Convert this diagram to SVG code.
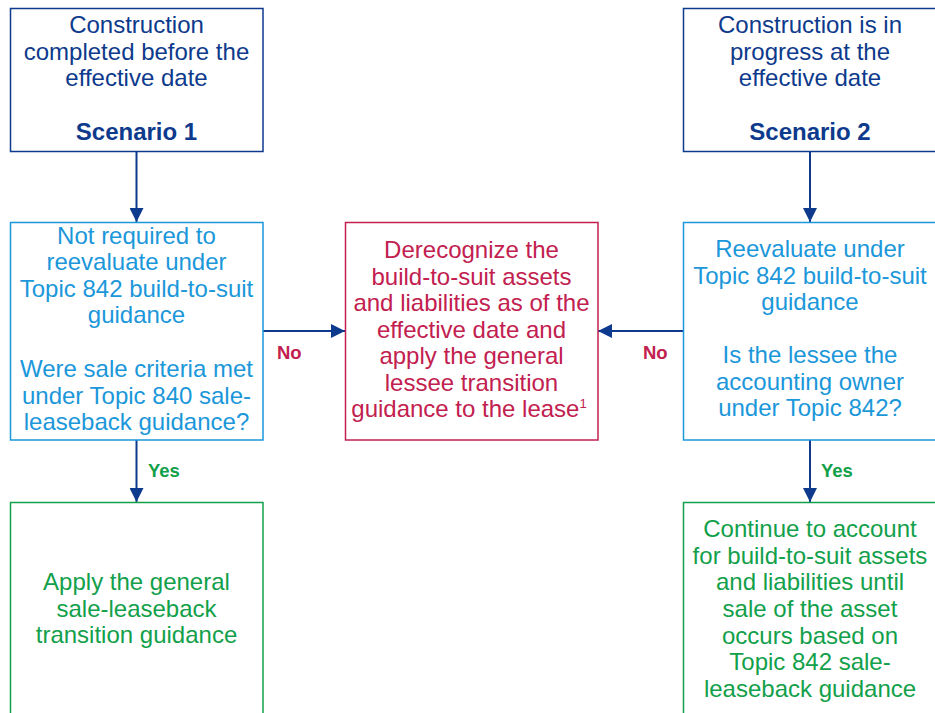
<svg xmlns="http://www.w3.org/2000/svg" width="935" height="713" viewBox="0 0 935 713">
<defs>
<style>
text{font-family:"Liberation Sans",Arial,sans-serif;font-size:24px;text-anchor:middle}
.box{fill:#fff;stroke-width:1.5}
.navy{stroke:#0d3a8c}
.lb{stroke:#1b97da}
.cr{stroke:#c2204f}
.gr{stroke:#12a04a}
.tnavy{fill:#0d3a8c}
.tlb{fill:#1b97da}
.tcr{fill:#c2204f}
.tgr{fill:#12a04a}
.b{font-weight:bold}
.lbl{font-size:18.5px;font-weight:bold;text-anchor:start}
.conn{stroke:#0d3a8c;stroke-width:2;fill:none}
</style>
<marker id="ah" markerWidth="14" markerHeight="14" viewBox="0 0 14 14" refX="14" refY="7" orient="auto" markerUnits="userSpaceOnUse">
<path d="M0,0 L14,7 L0,14 Z" fill="#0d3a8c"/>
</marker>
</defs>
<g id="connectors">
<line class="conn" x1="136.5" y1="152" x2="136.5" y2="222" marker-end="url(#ah)"/>
<line class="conn" x1="136.5" y1="440" x2="136.5" y2="502" marker-end="url(#ah)"/>
<line class="conn" x1="810" y1="152" x2="810" y2="222" marker-end="url(#ah)"/>
<line class="conn" x1="810" y1="440" x2="810" y2="502" marker-end="url(#ah)"/>
<line class="conn" x1="263" y1="331" x2="345" y2="331" marker-end="url(#ah)"/>
<line class="conn" x1="683" y1="331" x2="598" y2="331" marker-end="url(#ah)"/>
<text class="lbl tcr" x="277" y="359">No</text>
<text class="lbl tcr" x="643" y="359">No</text>
<text class="lbl tgr" x="148" y="477">Yes</text>
<text class="lbl tgr" x="821" y="477">Yes</text>
</g>
<g id="scenario1">
<rect class="box navy" x="10.5" y="8.5" width="252.5" height="143"/>
<text class="tnavy" x="136.5" y="33">Construction</text>
<text class="tnavy" x="136.5" y="59.5">completed before the</text>
<text class="tnavy" x="136.5" y="86">effective date</text>
<text class="tnavy b" x="136.5" y="139.5">Scenario 1</text>
</g>
<g id="scenario2">
<rect class="box navy" x="683.5" y="8.5" width="260" height="143"/>
<text class="tnavy" x="810" y="33">Construction is in</text>
<text class="tnavy" x="810" y="59.5">progress at the</text>
<text class="tnavy" x="810" y="86">effective date</text>
<text class="tnavy b" x="810" y="139.5">Scenario 2</text>
</g>
<g id="notRequired">
<rect class="box lb" x="10.5" y="222.5" width="252.5" height="217.5"/>
<text class="tlb" x="136.5" y="243.5">Not required to</text>
<text class="tlb" x="136.5" y="270">reevaluate under</text>
<text class="tlb" x="136.5" y="296.5">Topic 842 build-to-suit</text>
<text class="tlb" x="136.5" y="323">guidance</text>
<text class="tlb" x="136.5" y="377">Were sale criteria met</text>
<text class="tlb" x="136.5" y="403.5">under Topic 840 sale-</text>
<text class="tlb" x="136.5" y="430">leaseback guidance?</text>
</g>
<g id="derecognize">
<rect class="box cr" x="345.5" y="222.5" width="252.5" height="217.5"/>
<text class="tcr" x="471.5" y="258">Derecognize the</text>
<text class="tcr" x="471.5" y="284.5">build-to-suit assets</text>
<text class="tcr" x="471.5" y="311">and liabilities as of the</text>
<text class="tcr" x="471.5" y="337.5">effective date and</text>
<text class="tcr" x="471.5" y="364">apply the general</text>
<text class="tcr" x="471.5" y="390.5">lessee transition</text>
<text class="tcr" x="469" y="417">guidance to the lease<tspan font-size="13" dy="-9">1</tspan></text>
</g>
<g id="reevaluate">
<rect class="box lb" x="683.5" y="222.5" width="260" height="217.5"/>
<text class="tlb" x="810" y="257">Reevaluate under</text>
<text class="tlb" x="810" y="283.5">Topic 842 build-to-suit</text>
<text class="tlb" x="810" y="310">guidance</text>
<text class="tlb" x="810" y="363">Is the lessee the</text>
<text class="tlb" x="810" y="389.5">accounting owner</text>
<text class="tlb" x="810" y="416">under Topic 842?</text>
</g>
<g id="applyGeneral">
<rect class="box gr" x="10.5" y="502.5" width="252.5" height="230"/>
<text class="tgr" x="136.5" y="590">Apply the general</text>
<text class="tgr" x="136.5" y="616.5">sale-leaseback</text>
<text class="tgr" x="136.5" y="643">transition guidance</text>
</g>
<g id="continueAccount">
<rect class="box gr" x="683.5" y="502.5" width="260" height="230"/>
<text class="tgr" x="810" y="537">Continue to account</text>
<text class="tgr" x="810" y="563.7">for build-to-suit assets</text>
<text class="tgr" x="810" y="590.3">and liabilities until</text>
<text class="tgr" x="810" y="617">sale of the asset</text>
<text class="tgr" x="810" y="643.7">occurs based on</text>
<text class="tgr" x="810" y="670.3">Topic 842 sale-</text>
<text class="tgr" x="810" y="697">leaseback guidance</text>
</g>
</svg>
